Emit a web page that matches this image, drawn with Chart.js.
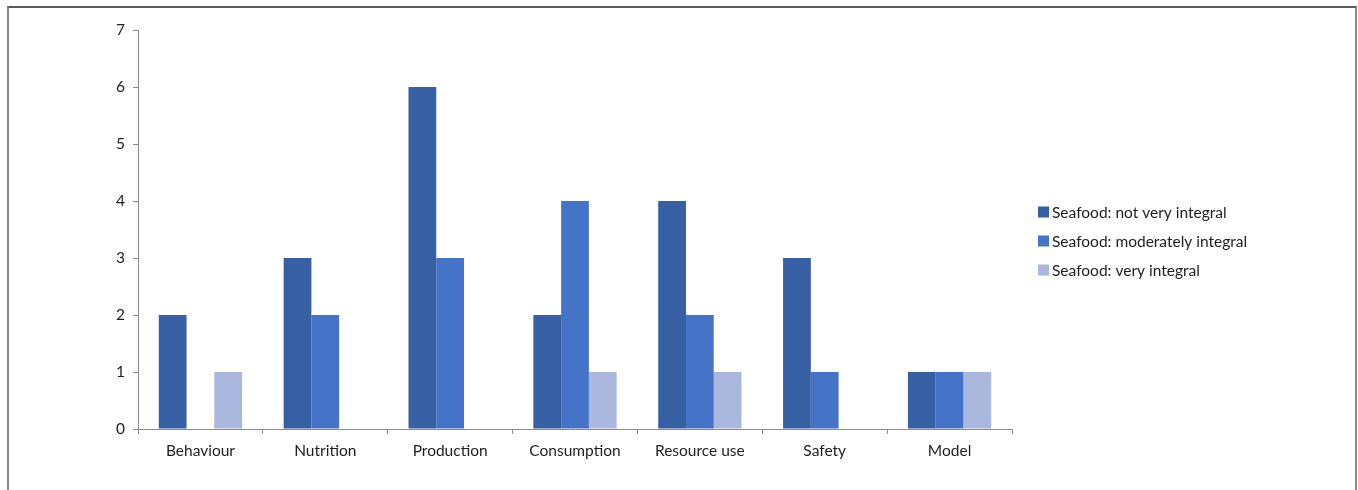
<!DOCTYPE html>
<html>
<head>
<meta charset="utf-8">
<script src="https://cdn.jsdelivr.net/npm/chart.js@4/dist/chart.umd.min.js"></script>
<style>
  html, body { margin: 0; padding: 0; background: #fff; }
  #wrap { position: relative; width: 1358px; height: 490px; overflow: hidden; }
  #frame {
    position: absolute; left: 7px; top: 6px; width: 1346px; height: 500px;
    border-top: 2px solid #5a5a5a; border-left: 2px solid #8a8a8a; border-right: 2px solid #8a8a8a;
    pointer-events: none;
  }
  canvas { display: block; }
</style>
</head>
<body>
<div id="wrap">
  <canvas id="chart" width="1358" height="490"></canvas>
  <div id="frame"></div>
</div>
<script>
// Topics and study counts per seafood-integration level
const categories = ["Behaviour", "Nutrition", "Production", "Consumption", "Resource use", "Safety", "Model"];
const notVeryIntegral    = [2, 3, 6, 2, 4, 3, 1];
const moderatelyIntegral = [0, 2, 3, 4, 2, 1, 1];
const veryIntegral       = [1, 0, 0, 1, 1, 0, 1];
const yTicks = [0, 1, 2, 3, 4, 5, 6, 7];

const seriesNames = ["Seafood: not very integral", "Seafood: moderately integral", "Seafood: very integral"];
const seriesColors = ["#365fa4", "#4573c7", "#a9b8dc"];

const FONT = "Lato, 'Open Sans', sans-serif";
const TEXT = "#1e1e1e";
const AXIS = "#8c8c8c";

// Legend drawn to the right of the plot, one row per dataset
const sideLegend = {
  id: "sideLegend",
  afterDraw(chart) {
    const ctx = chart.ctx;
    const x0 = 1038, y0 = 212, rowGap = 29, box = 11;
    ctx.save();
    ctx.font = "15.5px " + FONT;
    ctx.textBaseline = "middle";
    ctx.textAlign = "left";
    chart.data.datasets.forEach((ds, i) => {
      const y = y0 + i * rowGap;
      ctx.fillStyle = ds.backgroundColor;
      ctx.fillRect(x0, y - box / 2, box, box);
      ctx.fillStyle = TEXT;
      ctx.fillText(ds.label, x0 + box + 3, y + 1);
    });
    ctx.restore();
  }
};

new Chart(document.getElementById("chart"), {
  type: "bar",
  data: {
    labels: categories,
    datasets: [notVeryIntegral, moderatelyIntegral, veryIntegral].map((vals, i) => ({
      label: seriesNames[i],
      data: vals,
      backgroundColor: seriesColors[i],
      borderWidth: 0,
      categoryPercentage: 0.667,
      barPercentage: 1.0
    }))
  },
  options: {
    responsive: false,
    animation: false,
    devicePixelRatio: 1,
    layout: { padding: { left: 0, right: 346, top: 30, bottom: 0 } },
    plugins: { legend: { display: false }, tooltip: { enabled: false } },
    scales: {
      x: {
        grid: { offset: true, drawOnChartArea: false, drawTicks: true, tickLength: 5, color: AXIS },
        border: { color: AXIS, width: 1 },
        ticks: { color: TEXT, font: { family: FONT, size: 15.5 }, padding: 8, maxRotation: 0 },
        afterFit(scale) { scale.height = 61; }
      },
      y: {
        min: 0, max: 7,
        afterBuildTicks(scale) { scale.ticks = yTicks.map(v => ({ value: v })); },
        grid: { drawOnChartArea: false, drawTicks: true, tickLength: 5, color: AXIS },
        border: { color: AXIS, width: 1 },
        ticks: { color: TEXT, font: { family: FONT, size: 15.5 }, padding: 8 },
        afterFit(scale) { scale.width = 138; }
      }
    }
  },
  plugins: [sideLegend]
});
</script>
</body>
</html>
